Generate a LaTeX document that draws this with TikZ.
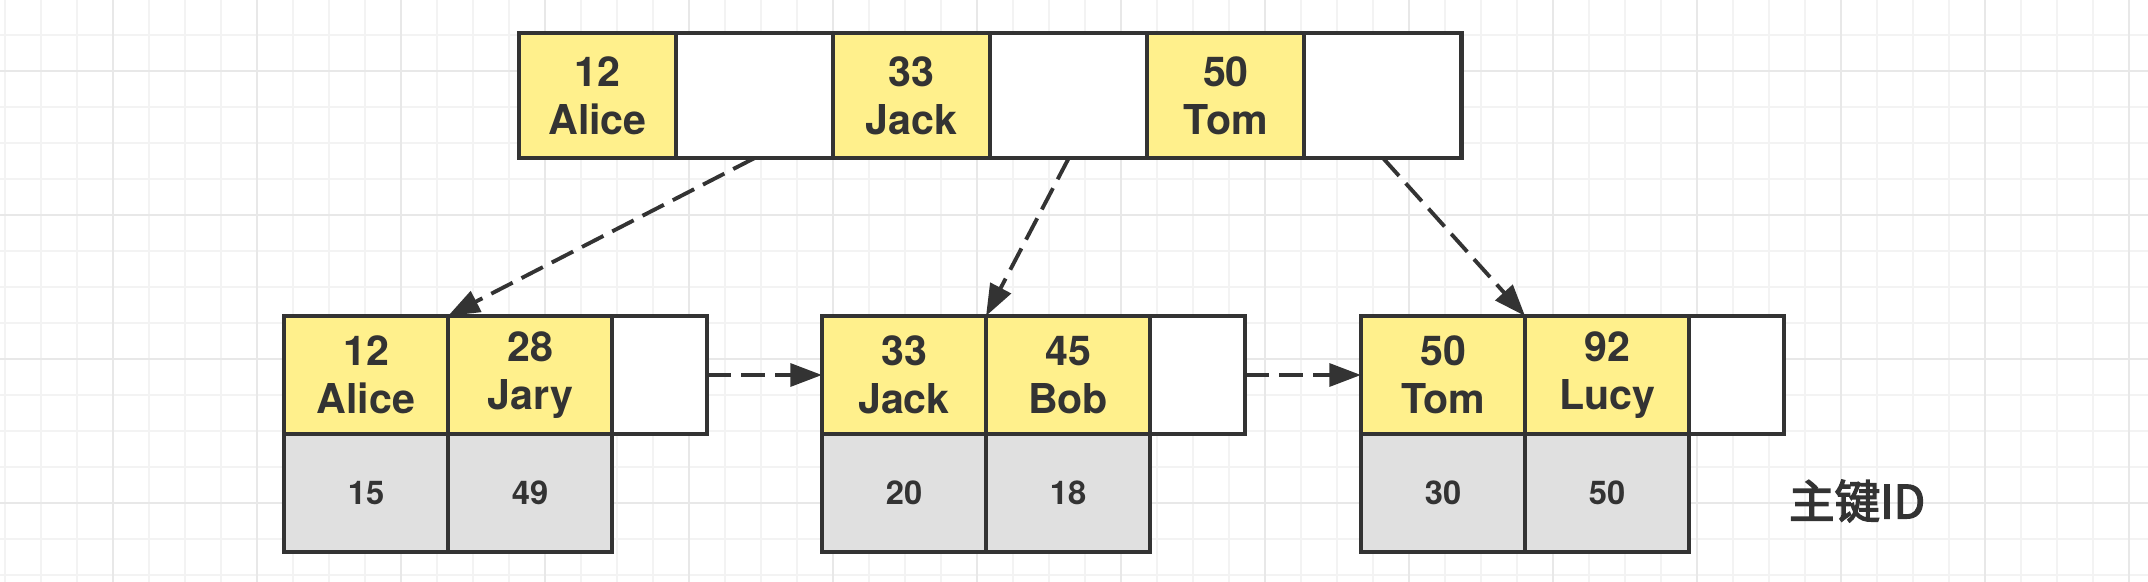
\documentclass[tikz,border=0pt]{standalone}
\usepackage{fontspec}
\setmainfont{TeX Gyre Heros}
\newfontfamily\cjk[FakeBold=3]{Noto Sans CJK SC}
\usepackage{tikz}
\usetikzlibrary{positioning,arrows.meta}
\definecolor{keyyellow}{HTML}{FFF08C}
\definecolor{idgray}{HTML}{E0E0E0}
\definecolor{ink}{HTML}{333333}
\definecolor{gridminor}{HTML}{F3F3F3}
\definecolor{gridmajor}{HTML}{E8E8E8}

\begin{document}
\begin{tikzpicture}[x=0.01cm,y=-0.01cm,
    every node/.style={draw=ink, line width=1.15pt, rectangle, inner sep=0pt, outer sep=0pt, align=center, text=ink},
    topkey/.style={fill=keyyellow, minimum width=1.57cm, minimum height=1.25cm, font=\bfseries\fontsize{11.7}{13.7}\selectfont},
    topptr/.style={fill=white, minimum width=1.57cm, minimum height=1.25cm},
    leafkey/.style={fill=keyyellow, minimum width=1.64cm, minimum height=1.18cm, font=\bfseries\fontsize{11.7}{13.7}\selectfont},
    leafnext/.style={fill=white, minimum width=0.95cm, minimum height=1.18cm},
    leafid/.style={fill=idgray, minimum width=1.64cm, minimum height=1.18cm, font=\bfseries\fontsize{9.3}{11}\selectfont},
    link/.style={draw=ink, line width=1.1pt, dash pattern=on 0.24cm off 0.1cm, -{Triangle[length=9pt,width=6.5pt]}},
    gridline/.style={draw=gridminor, line width=0.02cm},
    gridbold/.style={draw=gridmajor, line width=0.02cm}]

    \useasboundingbox (0,0) rectangle (2148,582);
    \fill[white] (0,0) rectangle (2148,582);
    \foreach \i in {0,...,59}
      \draw[gridline] ({5+36*\i},0) -- ({5+36*\i},582);
    \foreach \j in {1,...,16}
      \draw[gridline] (0,{-1+36*\j}) -- (2148,{-1+36*\j});
    \foreach \i in {3,7,...,59}
      \draw[gridbold] ({5+36*\i},0) -- ({5+36*\i},582);
    \foreach \j in {2,6,10,14}
      \draw[gridbold] (0,{-1+36*\j}) -- (2148,{-1+36*\j});

    \node[topkey] (k1) at (597.5,95.5) {12\\Alice};
    \node[topptr, right=0pt of k1] (p1) {};
    \node[topkey, right=0pt of p1] (k2) {33\\Jack};
    \node[topptr, right=0pt of k2] (p2) {};
    \node[topkey, right=0pt of p2] (k3) {50\\Tom};
    \node[topptr, right=0pt of k3] (p3) {};

    \node[leafkey] (a1) at (366,375) {12\\Alice};
    \node[leafkey, right=0pt of a1] (a2) {28\\Jary};
    \node[leafnext, right=0pt of a2] (an) {};
    \node[leafid, below=0pt of a1] (a1id) {15};
    \node[leafid, below=0pt of a2] (a2id) {49};

    \node[leafkey] (b1) at (904,375) {33\\Jack};
    \node[leafkey, right=0pt of b1] (b2) {45\\Bob};
    \node[leafnext, right=0pt of b2] (bn) {};
    \node[leafid, below=0pt of b1] (b1id) {20};
    \node[leafid, below=0pt of b2] (b2id) {18};

    \node[leafkey] (c1) at (1443,375) {50\\Tom};
    \node[leafkey, right=0pt of c1] (c2) {92\\Lucy};
    \node[leafnext, right=0pt of c2] (cn) {};
    \node[leafid, below=0pt of c1] (c1id) {30};
    \node[leafid, below=0pt of c2] (c2id) {50};

    \node[draw=none, font=\cjk\fontsize{13}{15}\selectfont] (pk) at (1857,501) {主键ID};

    \draw[link] (p1.south) -- (a1.north east);
    \draw[link] (p2.south) -- (b1.north east);
    \draw[link] (p3.south) -- (c1.north east);
    \draw[link] (an.east) -- (b1.west);
    \draw[link] (bn.east) -- (c1.west);
  \end{tikzpicture}
\end{document}
